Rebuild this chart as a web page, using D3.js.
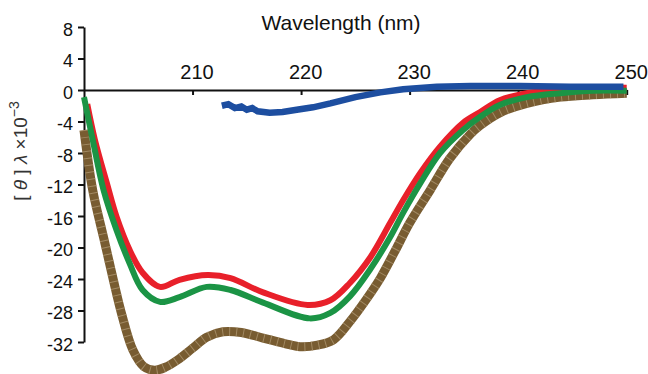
<!DOCTYPE html>
<html>
<head>
<meta charset="utf-8">
<script src="https://cdn.jsdelivr.net/npm/d3@7"></script>
<style>
  body { margin: 0; background: #fff; }
  svg text { font-family: "Liberation Sans", Arial, sans-serif; fill: #111; }
</style>
</head>
<body>
<div id="chart"></div>
<script>
// wavelength (nm) / ellipticity values
var redWl = [200.3, 201.0, 202.1, 203.0, 204.2, 205.4, 207.0, 208.8, 211.4, 213.5, 216.5, 220.6, 222.7, 224.5, 226.4, 228.2, 229.4, 231.0, 232.8, 234.9, 236.5, 238.3, 240.8, 243.9, 246.9, 250];
var redVal = [-1.8, -6.3, -11.8, -16.1, -20.3, -23.2, -25.0, -24.1, -23.5, -23.9, -25.7, -27.3, -26.7, -24.5, -21.2, -16.9, -14.0, -10.5, -7.2, -4.2, -2.8, -1.3, -0.4, 0.1, 0.3, 0.3];

var greenWl = [200.0, 200.8, 201.8, 203.0, 204.2, 205.4, 207.0, 208.8, 211.3, 213.5, 216.5, 220.8, 222.7, 224.5, 226.4, 228.2, 229.4, 231.0, 232.8, 234.9, 236.5, 238.3, 240.8, 243.9, 246.9, 250];
var greenVal = [-0.9, -6.3, -12.7, -17.8, -22.0, -25.4, -26.9, -26.3, -25.0, -25.4, -27.0, -29.0, -28.3, -26.2, -22.7, -18.7, -15.6, -11.8, -8.0, -5.1, -3.4, -1.9, -0.9, -0.4, -0.1, -0.1];

var brownWl = [200.0, 200.8, 201.8, 202.7, 203.5, 204.5, 205.5, 206.5, 207.5, 208.6, 210.0, 211.3, 212.8, 214.5, 216.5, 218.5, 219.9, 221.5, 223.0, 224.5, 226.0, 227.3, 228.6, 230.0, 231.9, 233.7, 235.6, 236.5, 238.3, 240.8, 243.9, 246.9, 250];
var brownVal = [-5.1, -12.7, -18.7, -24.1, -28.6, -33.0, -35.1, -35.6, -35.2, -34.3, -32.8, -31.4, -30.7, -30.8, -31.5, -32.2, -32.6, -32.4, -31.7, -29.4, -26.6, -23.9, -20.6, -16.9, -12.7, -8.7, -5.6, -4.5, -2.9, -1.7, -0.9, -0.6, -0.4];

var blueWl = [212.7, 213.3, 213.9, 214.5, 215.0, 215.5, 216.0, 217.1, 218.3, 219.6, 221.1, 222.7, 225.0, 227.3, 229.4, 232.5, 235.6, 240.2, 244.8, 249.7];
var blueVal = [-2.0, -1.8, -2.3, -2.1, -2.5, -2.3, -2.7, -2.9, -2.8, -2.5, -2.2, -1.7, -0.9, -0.3, 0.1, 0.4, 0.5, 0.5, 0.4, 0.4];

var xTicks = [210, 220, 230, 240, 250];
var yTicks = [8, 4, 0, -4, -8, -12, -16, -20, -24, -28, -32];

var width = 648, height = 374;

var svg = d3.select("#chart").append("svg")
    .attr("width", width)
    .attr("height", height);

var x = d3.scaleLinear().domain([200, 250]).range([84, 626.7]);
var y = d3.scaleLinear().domain([-32, 8]).range([342, 27]);

// y axis on the left edge, plain hyphen for negatives like the original
var yAxis = svg.append("g")
    .attr("transform", "translate(" + x(200) + ",0)")
    .call(d3.axisLeft(y).tickValues(yTicks).tickSize(6).tickSizeOuter(0)
        .tickFormat(function(d) { return String(d); }));
yAxis.select(".domain").attr("stroke", "#111").attr("stroke-width", 2);
yAxis.selectAll(".tick line").attr("stroke", "#111").attr("stroke-width", 2);
yAxis.selectAll(".tick text")
    .attr("font-size", 18)
    .attr("dy", "0.45em")
    .attr("x", -11);

// x axis runs along zero, labels above, ticks below
var xAxis = svg.append("g")
    .attr("transform", "translate(0," + y(0) + ")")
    .call(d3.axisBottom(x).tickValues(xTicks).tickSize(5).tickSizeOuter(0).tickFormat(d3.format("d")));
xAxis.select(".domain").attr("stroke", "#111").attr("stroke-width", 2);
xAxis.selectAll(".tick line").attr("stroke", "#111").attr("stroke-width", 2);
xAxis.selectAll(".tick text")
    .attr("font-size", 20)
    .attr("dy", 0)
    .attr("y", -11)
    .attr("x", 4);

svg.append("text")
    .attr("x", 341)
    .attr("y", 30)
    .attr("text-anchor", "middle")
    .attr("font-size", 21)
    .text("Wavelength (nm)");

var ylab = svg.append("text")
    .attr("transform", "translate(27,151) rotate(-90)")
    .attr("text-anchor", "middle")
    .attr("font-size", 19)
    .style("fill", "#333");
ylab.append("tspan").text("[ ");
ylab.append("tspan").attr("font-style", "italic").text("θ");
ylab.append("tspan").text(" ]  ");
ylab.append("tspan").attr("font-style", "italic").text("λ");
ylab.append("tspan").text("  ×10");
ylab.append("tspan").attr("font-size", 14).attr("dy", -8).text("−3");

function series(wl, vals) {
    return wl.map(function(d, i) { return [d, vals[i]]; });
}

var line = d3.line()
    .x(function(d) { return x(d[0]); })
    .y(function(d) { return y(d[1]); })
    .curve(d3.curveCatmullRom.alpha(0.5));

var brown = series(brownWl, brownVal);
svg.append("path").datum(brown)
    .attr("d", line).attr("fill", "none")
    .attr("stroke", "#785c31").attr("stroke-width", 9);
svg.append("path").datum(brown)
    .attr("d", line).attr("fill", "none")
    .attr("stroke", "#b39d77").attr("stroke-width", 9)
    .attr("stroke-dasharray", "1 6").attr("opacity", 0.7);

svg.append("path").datum(series(redWl, redVal))
    .attr("d", line).attr("fill", "none")
    .attr("stroke", "#e8202a").attr("stroke-width", 6);

svg.append("path").datum(series(greenWl, greenVal))
    .attr("d", line).attr("fill", "none")
    .attr("stroke", "#1b9445").attr("stroke-width", 6);

svg.append("path").datum(series(blueWl, blueVal))
    .attr("d", line.curve(d3.curveLinear)).attr("fill", "none")
    .attr("stroke", "#1d4ea0").attr("stroke-width", 6.5);
</script>
</body>
</html>
